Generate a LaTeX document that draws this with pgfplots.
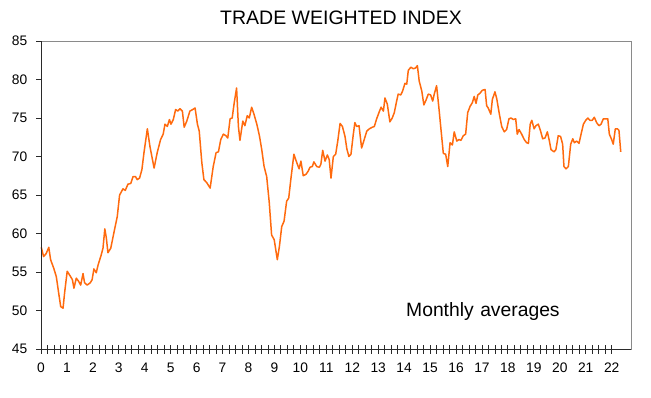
\documentclass[border=0pt]{standalone}
\usepackage{fontspec}
\setmainfont{Liberation Sans}
\usepackage{pgfplots}
\pgfplotsset{compat=1.18}
\definecolor{lineor}{HTML}{FF6A0E}
\definecolor{framegray}{HTML}{8A8A8A}
\definecolor{axdark}{HTML}{2A2A2A}
\begin{document}
\begin{tikzpicture}[x=1pt,y=1pt]
\path (0,0) rectangle (651,397);
\begin{axis}[
  at={(41pt,48pt)}, anchor=south west, scale only axis,
  width=590pt, height=308pt,
  xmin=0, xmax=22.745, ymin=45, ymax=85,
  xtick={0,...,22}, minor x tick num=3,
  ytick={45,50,...,85},
  xtick pos=bottom, ytick pos=left,
  tick align=center,
  major tick length=9pt, minor tick length=9pt,
  x tick style={axdark, line width=0.9pt},
  minor x tick style={axdark, line width=0.9pt},
  y tick style={draw=none},
  axis line style={framegray, line width=1pt},
  /pgf/number format/assume math mode=true,
  tick label style={font=\fontsize{13.8}{16}\selectfont},
  xticklabel style={anchor=north, inner sep=0pt, yshift=-9.5pt},
  yticklabel style={anchor=east, inner sep=0pt, xshift=-9pt},
  clip=false,
]
\addplot[lineor, line width=1.5pt, line join=round] coordinates {
(0.01,58.2)(0.10,57.0)(0.20,57.4)(0.30,58.2)(0.37,56.6)(0.49,55.5)(0.59,54.4)(0.68,52.3)(0.76,50.5)(0.85,50.3)(0.91,52.3)
(1.01,55.1)(1.14,54.4)(1.21,54.0)(1.27,52.9)(1.36,54.2)(1.45,53.8)(1.53,53.3)(1.62,54.8)(1.68,53.6)(1.78,53.3)(1.90,53.6)(1.97,54.0)
(2.04,55.4)(2.13,54.9)(2.20,55.9)(2.32,57.2)(2.39,58.1)(2.46,60.6)(2.52,59.4)(2.58,57.5)(2.69,58.1)(2.81,60.1)(2.94,62.2)
(3.03,65.0)(3.16,65.8)(3.25,65.6)(3.35,66.4)(3.46,66.5)(3.55,67.4)(3.64,67.4)(3.71,67.0)(3.80,67.2)(3.89,68.3)(3.97,70.5)
(4.10,73.6)(4.20,71.3)(4.36,68.5)(4.48,70.5)(4.61,72.2)(4.71,72.9)(4.78,74.2)(4.87,73.9)(4.95,74.8)
(5.01,74.2)(5.10,74.8)(5.19,76.1)(5.27,75.9)(5.36,76.2)(5.45,75.9)(5.52,73.8)(5.62,74.6)(5.74,75.9)(5.85,76.1)(5.94,76.3)
(6.03,74.2)(6.10,73.3)(6.20,69.2)(6.28,67.0)(6.39,66.6)(6.52,65.9)(6.64,68.7)(6.75,70.5)(6.84,70.6)(6.93,72.2)
(7.03,72.9)(7.13,72.7)(7.20,72.4)(7.29,74.9)(7.37,75.0)(7.45,77.0)(7.54,78.9)(7.61,73.9)(7.67,72.1)(7.78,74.6)(7.86,74.0)(7.95,75.3)
(8.03,75.0)(8.12,76.4)(8.21,75.5)(8.32,74.2)(8.42,72.7)(8.51,70.9)(8.60,68.7)(8.70,67.4)(8.80,64.0)(8.89,59.8)(8.99,59.2)
(9.11,56.6)(9.19,58.3)(9.28,60.9)(9.37,61.6)(9.47,64.2)(9.55,64.6)(9.63,67.0)(9.75,70.3)(9.86,69.2)(9.95,68.4)
(10.02,69.4)(10.11,67.5)(10.22,67.7)(10.30,68.1)(10.37,68.6)(10.46,68.7)(10.52,69.3)(10.63,68.7)(10.73,68.6)(10.79,69.0)(10.86,70.8)(10.95,69.4)
(11.04,70.2)(11.11,69.6)(11.18,67.2)(11.27,70.0)(11.36,70.3)(11.44,72.0)(11.53,74.3)(11.62,73.9)(11.72,72.6)(11.79,71.0)(11.87,70.0)(11.95,70.3)
(12.04,72.9)(12.10,74.4)(12.17,73.9)(12.26,74.0)(12.36,71.1)(12.46,72.2)(12.56,73.3)(12.66,73.6)(12.77,73.8)(12.85,73.9)(12.94,74.9)
(13.04,75.8)(13.11,76.4)(13.20,75.9)(13.26,77.6)(13.35,76.8)(13.45,74.5)(13.54,75.0)(13.62,75.7)(13.71,77.2)(13.77,78.1)(13.87,78.0)(13.94,78.5)
(14.03,79.5)(14.10,79.4)(14.16,81.2)(14.26,81.6)(14.35,81.4)(14.44,81.5)(14.51,81.8)(14.58,79.8)(14.68,78.5)(14.76,76.7)(14.84,77.3)(14.93,78.1)
(15.02,78.0)(15.10,77.2)(15.16,78.1)(15.25,79.2)(15.34,76.3)(15.42,73.5)(15.51,70.4)(15.60,70.3)(15.68,68.7)(15.77,71.8)(15.86,71.5)(15.93,73.2)
(16.03,72.0)(16.11,72.2)(16.19,72.1)(16.28,72.7)(16.37,72.9)(16.45,75.7)(16.54,76.5)(16.63,77.0)(16.70,77.8)(16.77,76.9)(16.84,78.0)(16.92,78.2)
(17.01,78.6)(17.12,78.7)(17.18,76.6)(17.24,76.3)(17.34,75.5)(17.40,77.4)(17.50,78.4)(17.57,77.5)(17.66,75.7)(17.76,73.9)(17.86,73.2)(17.95,73.5)
(18.04,74.9)(18.12,75.0)(18.21,74.8)(18.30,74.9)(18.36,72.9)(18.43,73.5)(18.53,72.9)(18.63,72.2)(18.72,71.8)(18.79,71.7)(18.86,74.2)(18.92,74.7)
(19.01,73.6)(19.08,74.0)(19.17,74.2)(19.26,73.3)(19.34,72.3)(19.43,72.4)(19.52,73.2)(19.60,72.0)(19.66,70.9)(19.78,70.6)(19.85,70.9)(19.94,72.7)
(20.03,72.6)(20.11,71.6)(20.16,68.7)(20.24,68.4)(20.33,68.7)(20.42,71.6)(20.50,72.3)(20.56,71.8)(20.65,72.0)(20.74,71.7)(20.82,72.9)(20.91,74.2)
(21.00,74.7)(21.08,75.0)(21.16,74.7)(21.25,74.7)(21.33,75.1)(21.42,74.4)(21.51,74.0)(21.59,74.2)(21.68,74.9)(21.78,74.9)(21.85,74.9)(21.91,72.9)
(22.00,72.2)(22.06,71.6)(22.14,73.6)(22.22,73.6)(22.28,73.4)(22.35,70.6)
};
\end{axis}
% left and bottom axis lines in dark, y ticks outward
\draw[axdark, line width=1pt] (41,48) -- (41,356);
\draw[axdark, line width=1pt] (41,48) -- (631,48);
\foreach \k in {0,...,8} \draw[axdark, line width=0.9pt] (36,48+\k*38.5) -- (41,48+\k*38.5);
\node[anchor=base, font=\fontsize{19.5}{22}\selectfont, inner sep=0pt] at (341,372) {TRADE WEIGHTED INDEX};
\node[anchor=base west, font=\fontsize{19.3}{22}\selectfont, inner sep=0pt] at (406,80.3) {Monthly\hspace{6.5pt}averages};
\end{tikzpicture}
\end{document}
